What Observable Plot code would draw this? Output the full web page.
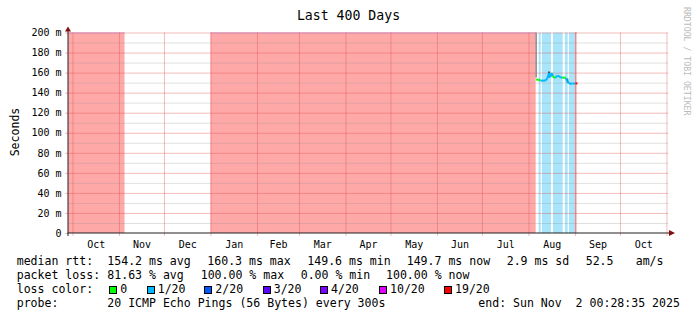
<!DOCTYPE html>
<html><head><meta charset="utf-8">
<script src="https://cdn.jsdelivr.net/npm/d3@7"></script>
<script src="https://cdn.jsdelivr.net/npm/@observablehq/plot@0.6"></script>
<style>
body{margin:0;background:#fff}
#wrap{position:relative;width:697px;height:321px;overflow:hidden;background:#fff;font-family:"DejaVu Sans Mono",monospace;color:#000}
#wrap svg{position:absolute;left:0;top:0}
.t{position:absolute;white-space:pre;line-height:14px;font-size:11.55px}
.sq{position:absolute;width:6px;height:6px;border:1px solid #000}
</style></head><body><div id="wrap"></div>
<script>
// ---- data ----
const title = "Last 400 Days";
const yLabel = "Seconds";
const credit = "RRDTOOL / TOBI OETIKER";
const startTime = "2024-09-28T00:28:35Z";
const endTime = "2025-11-02T00:28:35Z";
const monthStarts = ["2024-10-01","2024-11-01","2024-12-01","2025-01-01","2025-02-01","2025-03-01","2025-04-01","2025-05-01","2025-06-01","2025-07-01","2025-08-01","2025-09-01","2025-10-01","2025-11-01"];
const monthLabels = ["Oct","Nov","Dec","Jan","Feb","Mar","Apr","May","Jun","Jul","Aug","Sep","Oct"];
const yMajor = [0,20,40,60,80,100,120,140,160,180,200];
const yMinor = [10,30,50,70,90,110,130,150,170,190];
const yTickLabels = ["0","20 m","40 m","60 m","80 m","100 m","120 m","140 m","160 m","180 m","200 m"];

// loss background periods
const lossStart = ["2024-09-28T00:28:35Z","2025-01-01T00:00Z","2025-08-07T19:00Z","2025-08-10T00:00Z","2025-08-17T08:00Z","2025-08-25T08:00Z","2025-08-28T00:00Z","2025-09-01T00:00Z"];
const lossEnd   = ["2024-11-04T17:00Z","2025-08-05T19:00Z","2025-08-09T03:00Z","2025-08-16T00:00Z","2025-08-23T19:00Z","2025-08-27T03:00Z","2025-09-01T00:00Z","2025-09-02T03:00Z"];
const lossLevel = ["19/20","19/20","1/20","1/20","1/20","1/20","1/20","19/20"];

// median rtt (ms) with loss level
const medTime = ["2025-08-05T19:00Z","2025-08-07T08:00Z","2025-08-08T16:00Z","2025-08-12T00:00Z","2025-08-13T08:00Z","2025-08-14T08:00Z","2025-08-15T08:00Z","2025-08-16T00:00Z","2025-08-17T00:00Z","2025-08-17T16:00Z","2025-08-18T16:00Z","2025-08-20T00:00Z","2025-08-22T00:00Z","2025-08-23T08:00Z","2025-08-24T08:00Z","2025-08-25T08:00Z","2025-08-26T16:00Z","2025-08-27T16:00Z","2025-08-30T00:00Z","2025-09-01T00:00Z","2025-09-02T08:00Z"];
const medValue = [153.3,153.5,152.5,152.5,155,160,156,160.3,157,155.3,155.5,157.5,156,155,156,155,152.5,149.5,149.5,149.7,149.7];
const medLoss  = ["0","0","1/20","1/20","1/20","1/20","1/20","1/20","0","0","1/20","1/20","1/20","0","0","1/20","1/20","1/20","1/20","19/20","19/20"];

// smoke (spread of pings)
const smokeTime = ["2025-08-05T19:00Z","2025-08-14T08:00Z","2025-08-26T16:00Z"];
const smokeLo = [155,155,150];
const smokeHi = [200,161,154];

const lossLevels = ["0","1/20","2/20","3/20","4/20","10/20","19/20"];
const lossColors = ["#00ff00","#00b8ff","#0059ff","#5e00ff","#7e00ff","#dd00ff","#ff0000"];
const bgColors = {"1/20":"#a8e5fb","19/20":"#ffa8a8"};

const legendRtt = [["median rtt:",16.7],["154.2 ms avg",107.3],["160.3 ms max",207.3],["149.6 ms min",307.3],["149.7 ms now",406.7],["2.9 ms sd",506.7],["52.5",585.7],["am/s",635.7]];
const legendLoss = [["packet loss:",16.7],["81.63 % avg",107.3],["100.00 % max",200.7],["0.00 % min",300.7],["100.00 % now",386]];
const legendProbe = [["probe:",16.7],["20 ICMP Echo Pings (56 Bytes) every 300s",107.3],["end: Sun Nov  2 00:28:35 2025",478.3]];
const legendSwatchX = [109.3,146.7,204.3,262.7,320,379,444];

// ---- build ----
const T = s => new Date(s);
const x0 = T(startTime), x1 = T(endTime);
const months = monthStarts.map(T);
const mids = monthLabels.map((m,i) => new Date((+months[i] + +months[i+1]) / 2));
const bg = lossStart.map((s,i) => ({a: T(s), b: T(lossEnd[i]), c: bgColors[lossLevel[i]]}));
const med = medTime.map((s,i) => ({t: T(s), v: medValue[i], c: lossColors[lossLevels.indexOf(medLoss[i])]}));
const segs = med.slice(0,-1).map((d,i) => ({a: d, b: med[i+1]}));
const smoke = smokeTime.map((s,i) => ({t: T(s), lo: smokeLo[i], hi: smokeHi[i]}));
const redBg = bg.filter((d,i) => lossLevel[i] === "19/20");

const minorCol = "rgba(143,143,143,0.28)";
const majorCol = "rgba(222,79,79,0.38)";

const frame = (index, {x, y}) => {
  const g = d3.create("svg:g");
  const xa = x(x0), xb = x(x1), y0 = y(0), yt = y(200);
  g.append("line").attr("x1", xa - 0.5).attr("x2", xb + 2).attr("y1", y0).attr("y2", y0).attr("stroke", "#202020");
  g.append("line").attr("x1", xa).attr("x2", xa).attr("y1", y0 + 3).attr("y2", yt - 3).attr("stroke", "#202020");
  g.append("path").attr("d", `M${xb+1},${y0-3}L${xb+7},${y0}L${xb+1},${y0+3}Z`).attr("fill", "#801010");
  g.append("path").attr("d", `M${xa-3},${yt-1}L${xa},${yt-6}L${xa+3},${yt-1}Z`).attr("fill", "#801010");
  return g.node();
};

const chart = Plot.plot({
  width: 697, height: 252,
  marginLeft: 68, marginRight: 29, marginTop: 32.5, marginBottom: 19,
  style: {fontFamily: "DejaVu Sans Mono, monospace", fontSize: "10px", background: "transparent", overflow: "visible"},
  x: {type: "utc", domain: [x0, x1]},
  y: {domain: [0, 200]},
  marks: [
    Plot.rect(bg, {x1: "a", x2: "b", y1: 0, y2: 200, fill: "c"}),
    Plot.ruleY(redBg, {y: 200, x1: "a", x2: "b", stroke: "#c9a6e0", strokeWidth: 1.2}),
    Plot.ruleY(yMinor, {stroke: minorCol, strokeWidth: 1}),
    Plot.ruleY(yMajor.filter(v => v > 0), {stroke: majorCol, strokeWidth: 1}),
    Plot.ruleX(months, {y1: 0, y2: 200, stroke: majorCol, strokeWidth: 1}),
    Plot.axisY(yMajor, {tickSize: 3, tickPadding: 4, tickFormat: (d) => yTickLabels[yMajor.indexOf(d)], stroke: majorCol, fill: "#000"}),
    Plot.axisX(months, {tickSize: 3, tickFormat: () => "", stroke: majorCol}),
    Plot.text(mids, {x: d => d, frameAnchor: "bottom", dy: 11, lineAnchor: "middle", text: (d,i) => monthLabels[i], fill: "#000"}),
    Plot.ruleX(smoke.slice(0,1), {x: "t", y1: "lo", y2: "hi", stroke: "#8a8a8a", strokeWidth: 1.5}),
    Plot.ruleX(smoke.slice(1), {x: "t", y1: "lo", y2: "hi", stroke: "#222222", strokeWidth: 1.5}),
    Plot.link(segs, {x1: d => d.a.t, y1: d => d.a.v, x2: d => d.b.t, y2: d => d.b.v, stroke: d => d.a.c, strokeWidth: 2}),
    frame
  ]
});

const wrap = document.getElementById("wrap");
wrap.appendChild(chart);
const add = (txt, x, yc, extra = "") => {
  const e = document.createElement("div");
  e.className = "t"; e.textContent = txt;
  e.style.cssText += `left:${x}px;top:${yc-7}px;` + extra;
  wrap.appendChild(e); return e;
};
add(title, 0, 16, "width:697px;text-align:center;font-size:13.2px;");
add(yLabel, -35, 132, "width:100px;text-align:center;transform:rotate(-90deg);font-size:11.55px;");
const cr = document.createElement("div");
cr.textContent = credit;
cr.style.cssText = "position:absolute;left:682px;top:7px;writing-mode:vertical-rl;font-size:8.2px;color:#bbb;line-height:10px;white-space:pre;";
wrap.appendChild(cr);
legendRtt.forEach(([s,x]) => add(s, x, 261));
legendLoss.forEach(([s,x]) => add(s, x, 275));
add("loss color:", 16.7, 289);
lossLevels.forEach((l,i) => {
  const q = document.createElement("div");
  q.className = "sq";
  q.style.cssText += `left:${legendSwatchX[i]}px;top:${285.5}px;background:${lossColors[i]};`;
  wrap.appendChild(q);
  add(l, legendSwatchX[i] + 11, 289);
});
legendProbe.forEach(([s,x]) => add(s, x, 303));
</script></body></html>
